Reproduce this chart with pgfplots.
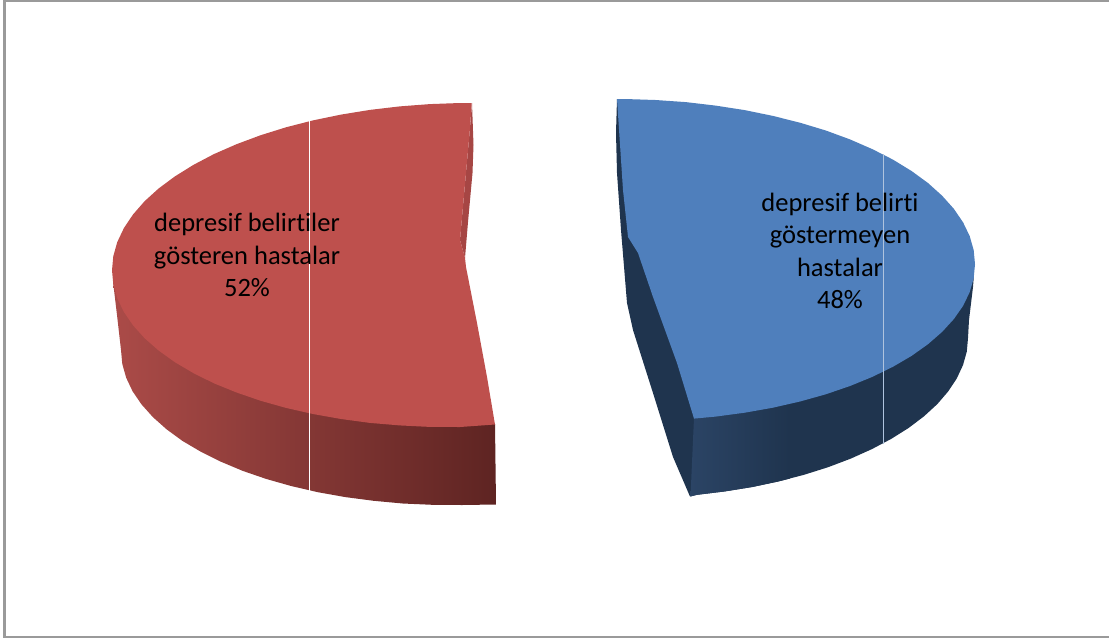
\documentclass[border=0pt]{standalone}
\usepackage{pgfplots}
\pgfplotsset{compat=1.18}
\usepackage{fontspec}
\setmainfont[Ligatures=NoCommon]{Carlito}
\definecolor{redtop}{HTML}{BE504D}
\definecolor{redsliver}{HTML}{A64644}
\definecolor{redwallL}{HTML}{AB4B48}
\definecolor{redwallR}{HTML}{5E2422}
\definecolor{bluetop}{HTML}{4F7FBC}
\definecolor{bluedark}{HTML}{1F344E}
\definecolor{bluewallL}{HTML}{2B4465}
\definecolor{framegray}{HTML}{9A9A9A}
\begin{document}
\begin{tikzpicture}
\path[use as bounding box] (0,0) rectangle (1109pt,641pt);
\begin{axis}[
  at={(0,0)}, anchor=south west,
  width=1109pt, height=641pt, scale only axis,
  xmin=0, xmax=1109, ymin=0, ymax=641, y dir=reverse,
  hide axis, clip=false,
]
% chart frame
\addplot[draw=framegray, line width=2.6pt, forget plot] coordinates {(4.6,637) (4.6,0.6) (1109,0.6)};
\addplot[draw=framegray, line width=2.2pt, forget plot] coordinates {(3.4,637) (1109,637)};

% slice "depresif belirtiler gosteren hastalar", 52 percent
% side wall
\addplot[draw=none, left color=redwallL, right color=redwallR, forget plot] coordinates {
  (113.3,284) (117,315) (121,350) (122.3,364) (126.2,377.8) (132.6,391.3) (141.6,404.5) (153,417.2)
  (166.7,429.4) (182.6,441) (200.8,451.7) (220.9,461.7) (242.8,470.9) (266.4,479) (291.5,486.1)
  (317.9,492.2) (345.4,497.1) (373.7,500.8) (402.8,503.5) (432.3,504.8) (462,505) (496,504.5)
  (495,424) (300,300) (113.3,284)};
% sliver of the cut face behind the top
\addplot[draw=none, fill=redsliver, forget plot] coordinates {
  (472,103) (473.5,145) (472.5,173) (468,222) (465,258) (460,240) (464,195) (470,128) (472,103)};
% top face
\addplot[draw=none, fill=redtop, forget plot] coordinates {
  (471.7,103) (460,103) (429.7,104.1) (399.6,106.4) (369.9,109.9) (341,114.6) (312.9,120.4) (286,127.3)
  (260.4,135.3) (236.3,144.3) (213.9,154.1) (193.4,164.9) (174.9,176.4) (158.6,188.5) (144.6,201.2)
  (133,214.5) (123.9,228.1) (117.3,242) (113.3,256.1) (112,270.2) (113.3,284.3) (117.3,298.3)
  (123.9,312) (133,325.3) (144.6,338.2) (158.6,350.5) (174.9,362.2) (193.4,373.1) (213.9,383.3)
  (236.3,392.4) (260.4,400.7) (286,407.9) (312.9,414) (341,419) (369.9,422.9) (399.6,425.4)
  (429.7,426.9) (460,427) (495,424.5)
  (487,377) (482,350) (477,323) (471.5,295) (466,267) (465,258) (460,240) (464,195) (470,128) (471.7,103)};
\addplot[draw=white, line width=0.8pt, forget plot] coordinates {(309,120) (309,492)};

% slice "depresif belirti gostermeyen hastalar", 48 percent
% cut face and dark wall
\addplot[draw=none, fill=bluedark, forget plot] coordinates {
  (617,99) (616,133) (617,173) (621,230) (627,303) (633,330) (653,393) (673,457) (690,496.5)
  (697,494.8) (724.9,491.4) (752.2,487) (778.6,481.4) (804,474.8) (828.1,467.2) (850.8,458.6)
  (871.9,449.1) (891.2,438.9) (908.7,427.9) (924,416.3) (937.3,404.1) (948.2,391.4) (956.8,378.4)
  (963,365.1) (966.8,351.6) (968,338.1) (969,320) (973,287) (973.7,278)
  (883,300) (694,300) (617,99)};
% front part of the wall, lighter at the corner
\addplot[draw=none, left color=bluewallL, right color=bluedark, forget plot] coordinates {
  (694,418) (690.5,496.5) (697,494.8) (724.9,491.4) (752.2,487) (778.6,481.4) (790,478.5) (790,405) (694,418)};
% top face
\addplot[draw=none, fill=bluetop, forget plot] coordinates {
  (617,99) (625,99) (655.5,100) (685.8,102.1) (715.6,105.6) (744.7,110.1) (772.9,115.9) (800,122.7)
  (825.8,130.5) (850,139.4) (872.5,149.2) (893.1,159.7) (911.7,171.1) (928.1,183.1) (942.2,195.8)
  (953.9,208.9) (963.1,222.4) (969.7,236.1) (973.7,250.2) (975,264.2) (973.7,278.2) (969.7,292.1)
  (963.1,305.8) (953.9,319) (942.2,331.8) (928.1,344.1) (911.7,355.8) (893.1,366.7) (872.5,376.8)
  (850,386) (825.8,394.3) (800,401.5) (772.9,407.7) (744.7,412.7) (715.6,416.6) (694,418.6)
  (677,363) (653,297) (638,253) (628,237) (623,190) (617,99)};
\addplot[draw={rgb,255:red,175;green,195;blue,222}, line width=0.8pt, forget plot] coordinates {(883,154) (883,444)};

% slice labels
\node[align=center, text=black, font=\fontsize{26.5}{32.5}\selectfont] at (axis cs:247,255)
  {depresif belirtiler\\gösteren hastalar\\52\%};
\node[align=center, text=black, font=\fontsize{26.5}{32.5}\selectfont] at (axis cs:840,251)
  {depresif belirti\\göstermeyen\\hastalar\\48\%};
\end{axis}
\end{tikzpicture}
\end{document}
